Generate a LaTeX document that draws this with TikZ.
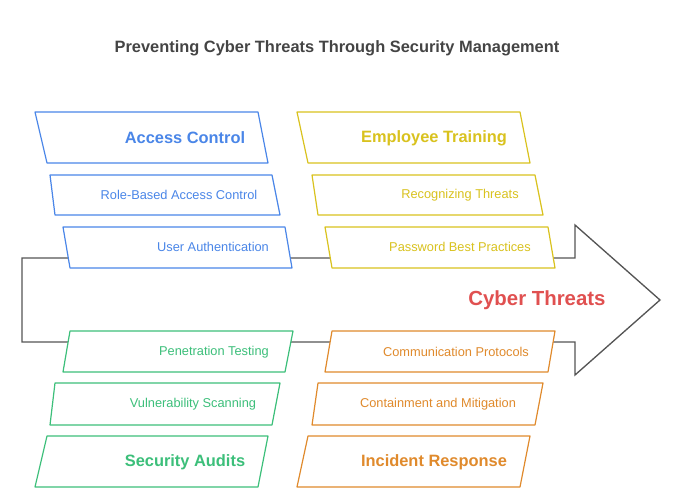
\documentclass[tikz,border=0pt]{standalone}
\usepackage{fontspec}
\setmainfont{Liberation Sans}
\definecolor{acblue}{HTML}{4A86E8}
\definecolor{etyellow}{HTML}{D9C21E}
\definecolor{sagreen}{HTML}{3CBF7A}
\definecolor{irorange}{HTML}{E08A2C}
\definecolor{ctred}{HTML}{E05050}
\definecolor{arrgray}{HTML}{555555}
\definecolor{titlegray}{HTML}{444444}
\tikzset{
  plate/.style={fill=white, line width=0.9pt, line join=round},
  headtext/.style={font=\bfseries\fontsize{12.3}{14}\selectfont},
  itemtext/.style={font=\fontsize{9.6}{11}\selectfont},
}
% top-left x, top-right x, bottom-left x, bottom-right x, top y, bottom y, colour
\newcommand{\plate}[7]{\draw[plate,draw=#7] (#1,#5) -- (#2,#5) -- (#4,#6) -- (#3,#6) -- cycle;}
\begin{document}
\begin{tikzpicture}[x=0.75pt,y=-0.75pt]
\useasboundingbox (0,0) rectangle (679,499);
\node[font=\bfseries\fontsize{12.3}{14}\selectfont, text=titlegray] (title) at (337,48) {Preventing Cyber Threats Through Security Management};
% spine arrow
\draw[arrgray, line width=1pt, line join=miter] (22,258) -- (575,258) -- (575,225) -- (660,300) -- (575,375) -- (575,342) -- (22,342) -- cycle;
\node[font=\bfseries\fontsize{15.3}{17}\selectfont, text=ctred] (threats) at (537,300) {Cyber Threats};
% access control
\plate{35}{258}{47}{268}{112}{163}{acblue}
\plate{50}{272}{55}{280}{175}{215}{acblue}
\plate{63}{285}{70}{292}{227}{268}{acblue}
\node[headtext, text=acblue] (ac) at (185,138) {Access Control};
\node[itemtext, text=acblue] (rbac) at (179,195) {Role-Based Access Control};
\node[itemtext, text=acblue] (ua) at (213,247) {User Authentication};
% employee training
\plate{297}{520}{308}{530}{112}{163}{etyellow}
\plate{312}{535}{318}{543}{175}{215}{etyellow}
\plate{325}{548}{332}{555}{227}{268}{etyellow}
\node[headtext, text=etyellow] (et) at (434,138) {Employee Training};
\node[itemtext, text=etyellow] (rt) at (460,195) {Recognizing Threats};
\node[itemtext, text=etyellow] (pbp) at (460,247) {Password Best Practices};
% security audits
\plate{70}{293}{63}{285}{331}{372}{sagreen}
\plate{55}{280}{50}{272}{383}{425}{sagreen}
\plate{47}{268}{35}{258}{436}{487}{sagreen}
\node[itemtext, text=sagreen] (pt) at (214,352) {Penetration Testing};
\node[itemtext, text=sagreen] (vs) at (193,404) {Vulnerability Scanning};
\node[headtext, text=sagreen] (sa) at (185,462) {Security Audits};
% incident response
\plate{332}{555}{325}{548}{331}{372}{irorange}
\plate{318}{543}{312}{535}{383}{425}{irorange}
\plate{308}{530}{297}{520}{436}{487}{irorange}
\node[itemtext, text=irorange] (cp) at (456,352) {Communication Protocols};
\node[itemtext, text=irorange] (cm) at (438,404) {Containment and Mitigation};
\node[headtext, text=irorange] (ir) at (434,462) {Incident Response};
\end{tikzpicture}
\end{document}
